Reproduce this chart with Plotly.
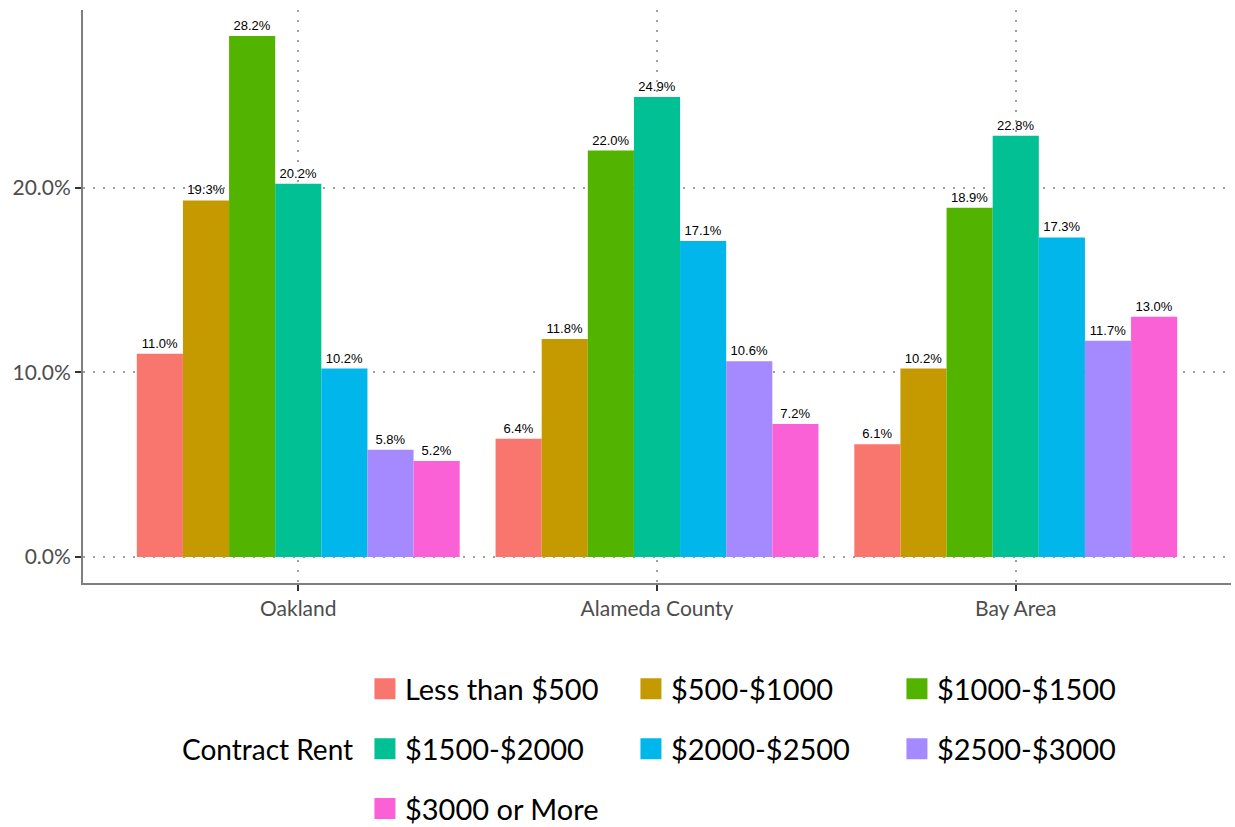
import plotly.graph_objects as go

regions = ["Oakland", "Alameda County", "Bay Area"]
rent_bins = ["Less than $500", "$500-$1000", "$1000-$1500", "$1500-$2000",
             "$2000-$2500", "$2500-$3000", "$3000 or More"]
colors = ["#F8766D", "#C49A00", "#53B400", "#00C094", "#00B6EB", "#A58AFF", "#FB61D7"]

# percent values per rent bin, across regions
less_500 = [11.0, 6.4, 6.1]
r500_1000 = [19.3, 11.8, 10.2]
r1000_1500 = [28.2, 22.0, 18.9]
r1500_2000 = [20.2, 24.9, 22.8]
r2000_2500 = [10.2, 17.1, 17.3]
r2500_3000 = [5.8, 10.6, 11.7]
r3000_plus = [5.2, 7.2, 13.0]
series = [less_500, r500_1000, r1000_1500, r1500_2000, r2000_2500, r2500_3000, r3000_plus]

y_ticks = [0, 10, 20]
y_tick_labels = ["0.0%", "10.0%", "20.0%"]
legend_title = "Contract Rent"

FONT = "Lato"
legend_rows = ["legend", "legend", "legend", "legend2", "legend2", "legend2", "legend3"]

fig = go.Figure()
for name, vals, col in zip(rent_bins, series, colors):
    fig.add_trace(go.Bar(
        x=regions, y=vals, name=name, legendgroup=name, showlegend=False,
        marker=dict(color=col, line=dict(width=0)),
        text=[f"{v:.1f}%" for v in vals],
        textposition="outside",
        constraintext="none",
        cliponaxis=False,
        textfont=dict(family="Liberation Sans", size=13, color="black"),
        hovertemplate="%{x}<br>" + name + ": %{y:.1f}%<extra></extra>",
    ))

# legend-only swatches (larger squares than the default bar swatch)
for name, col, lg in zip(rent_bins, colors, legend_rows):
    fig.add_trace(go.Scatter(
        x=[None], y=[None], name=name, legendgroup=name, legend=lg,
        mode="markers", showlegend=True,
        marker=dict(symbol="square", size=16, color=col,
                    line=dict(width=5, color=col)),
        hoverinfo="skip",
    ))

legend_common = dict(
    orientation="h", x=0.2456, xanchor="left", yanchor="middle",
    font=dict(family=FONT, size=29, color="black"),
    entrywidth=221, itemwidth=30, bgcolor="rgba(0,0,0,0)",
)

fig.update_layout(
    width=1235, height=827,
    margin=dict(l=83, r=4, t=10, b=244, autoexpand=False),
    paper_bgcolor="white", plot_bgcolor="white",
    barmode="group", bargap=0.1, bargroupgap=0,
    font=dict(family=FONT, color="#4D4D4D"),
    xaxis=dict(
        range=[-0.6, 2.6],
        showline=True, linecolor="#7F7F7F", linewidth=2,
        ticks="outside", ticklen=6, tickcolor="#333333", tickwidth=2,
        tickfont=dict(family=FONT, size=21, color="#4D4D4D"),
        showgrid=True, gridcolor="#A0A0A0", griddash="2px,8px", gridwidth=2,
        zeroline=False,
    ),
    yaxis=dict(
        range=[-1.41, 29.61],
        tickvals=y_ticks, ticktext=y_tick_labels,
        showline=True, linecolor="#7F7F7F", linewidth=2,
        ticks="outside", ticklen=6, tickcolor="#333333", tickwidth=2,
        tickfont=dict(family=FONT, size=21, color="#4D4D4D"),
        showgrid=True, gridcolor="#A0A0A0", griddash="2px,8px", gridwidth=2,
        zeroline=False,
    ),
    legend=dict(y=-0.185, **legend_common),
    legend2=dict(y=-0.2897, **legend_common),
    legend3=dict(y=-0.394, **legend_common),
    annotations=[dict(
        text=legend_title, xref="paper", yref="paper",
        x=0.2369, y=-0.2897, xanchor="right", yanchor="middle",
        showarrow=False, font=dict(family=FONT, size=28, color="black"),
    )],
)

fig.write_html("out.html",
               config={"displayModeBar": False},
               post_script="document.body.style.margin='0';document.body.style.overflow='hidden';")
